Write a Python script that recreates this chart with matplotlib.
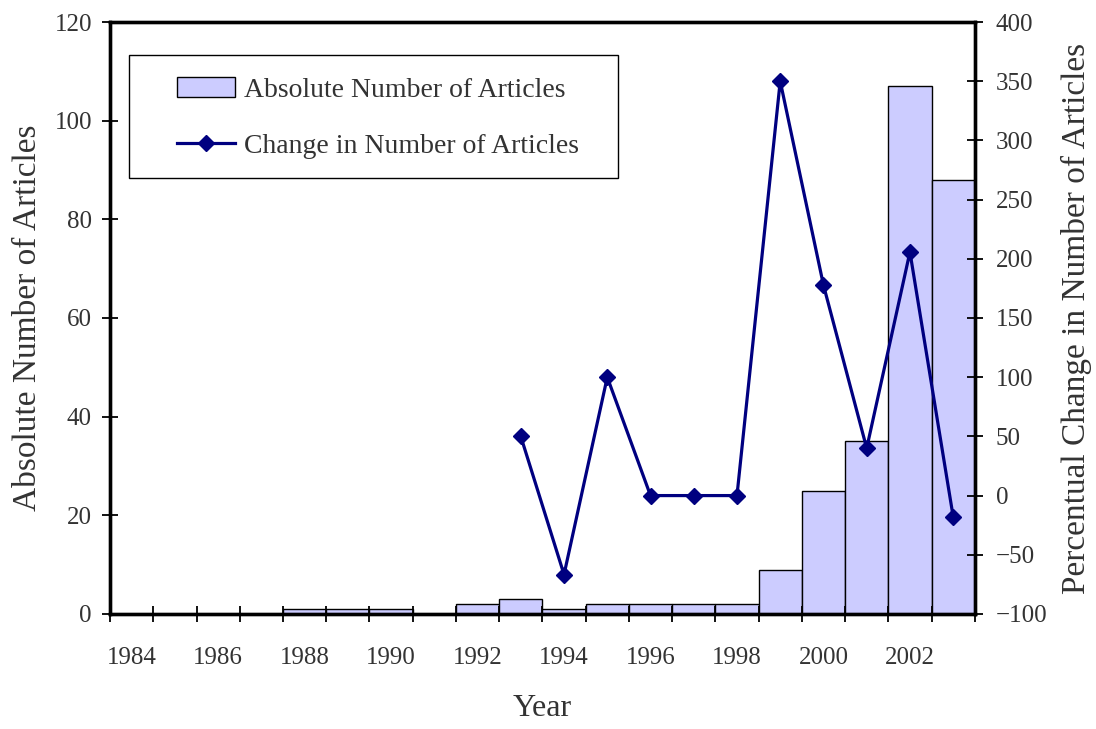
import numpy as np
import matplotlib.pyplot as plt
from matplotlib import ticker
from matplotlib.patches import Rectangle

plt.rcParams['font.family'] = ['Liberation Serif', 'DejaVu Serif']

years = list(range(1984, 2004))
articles = [0, 0, 0, 0, 1, 1, 1, 0, 2, 3, 1, 2, 2, 2, 2, 9, 25, 35, 107, 88]
change_years = [1993, 1994, 1995, 1996, 1997, 1998, 1999, 2000, 2001, 2002, 2003]
change_pct = [50, -66.7, 100, 0, 0, 0, 350, 177.8, 40, 205.7, -17.8]
year_labels = [str(y) for y in range(1984, 2004, 2)]

bar_color = '#ccccff'
line_color = '#000080'
txt_color = '#333333'

fig = plt.figure(figsize=(10.96, 7.29), dpi=100)
ax = fig.add_axes([0.1004, 0.1578, 0.789, 0.812])
ax2 = ax.twinx()

pos = np.arange(len(years))
bars = ax.bar(pos, articles, width=1.0, color=bar_color, edgecolor='black',
              linewidth=1.0)
cpos = [years.index(y) for y in change_years]
line, = ax2.plot(cpos, change_pct, color=line_color, lw=2.3, marker='D', ms=8.5)

ax.set_xlim(-0.5, len(years) - 0.5)
ax.set_ylim(0, 120)
ax2.set_ylim(-100, 400)
ax.set_yticks(range(0, 121, 20))
ax2.set_yticks(range(-100, 401, 50))

# tick marks at bar boundaries, labels centred under every other bar
ax.set_xticks(np.arange(-0.5, len(years), 1.0))
ax.xaxis.set_major_formatter(ticker.NullFormatter())
ax.set_xticks(np.arange(0, len(years), 2), minor=True)
ax.set_xticklabels(year_labels, minor=True)
ax.tick_params(axis='x', which='minor', length=0, pad=24, labelsize=18, labelcolor=txt_color)
ax.tick_params(axis='x', which='major', direction='inout', length=12, width=1.3)
ax.tick_params(axis='y', direction='inout', length=12, width=1.3, labelsize=18,
               labelcolor=txt_color, pad=7)
ax2.tick_params(axis='y', direction='inout', length=12, width=1.3, labelsize=18,
                labelcolor=txt_color, pad=9)

for a in (ax, ax2):
    for s in a.spines.values():
        s.set_linewidth(2.4)
        s.set_color('black')

ax.set_ylabel('Absolute Number of Articles', fontsize=24, color=txt_color, labelpad=8)
ax2.set_ylabel('Percentual Change in Number of Articles', fontsize=24, color=txt_color,
               labelpad=10)
ax.set_xlabel('Year', fontsize=23, color=txt_color, labelpad=18)

# legend box drawn separately so the padding can match the original
ax2.add_patch(Rectangle((0.022, 0.736), 0.565, 0.208, transform=ax2.transAxes,
                        facecolor='white', edgecolor='black', lw=1.0, zorder=4))
leg = ax2.legend([bars, line], ['Absolute Number of Articles', 'Change in Number of Articles'],
                 loc='center left', bbox_to_anchor=(0.0775, 0.838), fontsize=20,
                 frameon=False, handlelength=2.1, handletextpad=0.3, borderpad=0,
                 labelspacing=1.1, borderaxespad=0)
for t in leg.get_texts():
    t.set_color(txt_color)
leg.set_zorder(5)

fig.savefig('out.png', dpi=100)
